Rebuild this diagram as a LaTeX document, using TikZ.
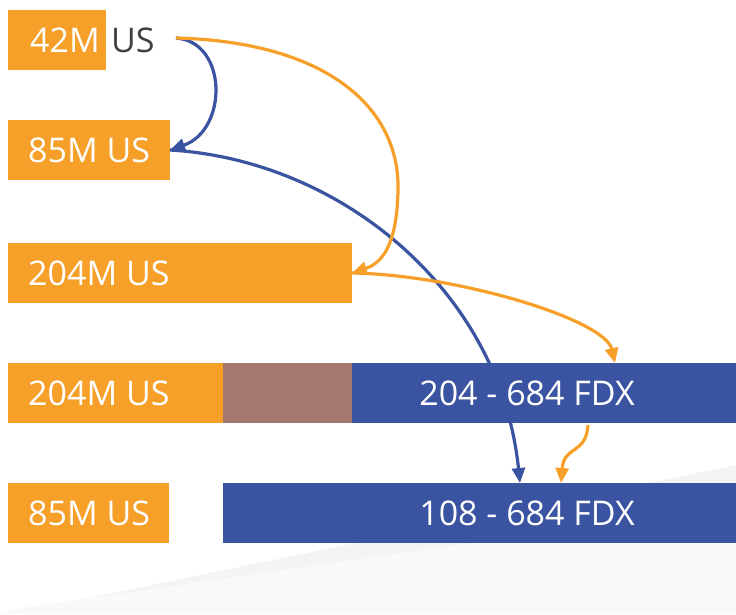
\documentclass[tikz,border=0pt]{standalone}
\usepackage{fontspec}
\setmainfont{Open Sans}
\usetikzlibrary{arrows.meta}
\definecolor{ora}{HTML}{F6A02A}
\definecolor{blu}{HTML}{3A54A2}
\definecolor{brn}{HTML}{A4786F}
\definecolor{dgray}{HTML}{404040}
\tikzset{
  bar/.style={anchor=north west, minimum height=60pt, inner sep=0pt, outer sep=0pt},
  lbl/.style={anchor=west, text=white, font=\fontsize{34}{40}\selectfont, inner sep=0pt},
  clbl/.style={text=white, font=\fontsize{34}{40}\selectfont, inner sep=0pt},
  oarr/.style={draw=ora, line width=3.2pt, -{Triangle[length=15pt,width=13pt]}},
  barr/.style={draw=blu, line width=3.2pt, -{Triangle[length=15pt,width=13pt]}},
}
\begin{document}
\begin{tikzpicture}[x=1pt,y=-1pt]
\useasboundingbox (0,0) rectangle (736,614);
% background shading
\fill[gray!9] (10,614) -- (736,465) -- (736,614) -- cycle;
\fill[gray!5] (0,614) -- (20,608) -- (736,505) -- (736,614) -- cycle;
% row 1
\node[bar, fill=ora, minimum width=98pt] (b1) at (8,10) {};
\node[lbl] (t1) at (30,40) {42M};
\node[lbl, text=dgray] (us) at (111,40) {US};
\coordinate (src) at (176,38);
% row 2
\node[bar, fill=ora, minimum width=162pt] (b2) at (8,120) {};
\node[lbl] (t2) at (28,150) {85M US};
% row 3
\node[bar, fill=ora, minimum width=344pt] (b3) at (8,243) {};
\node[lbl] (t3) at (28,273) {204M US};
% row 4
\node[bar, fill=ora, minimum width=215pt] (b4a) at (8,363) {};
\node[bar, fill=brn, minimum width=129pt] (b4b) at (223,363) {};
\node[bar, fill=blu, minimum width=384pt] (b4c) at (352,363) {};
\node[lbl] (t4) at (28,393) {204M US};
\node[clbl] (t4c) at (527,393) {204 - 684 FDX};
% row 5
\node[bar, fill=ora, minimum width=161pt] (b5a) at (8,483) {};
\node[bar, fill=blu, minimum width=513pt] (b5b) at (223,483) {};
\node[lbl] (t5) at (28,513) {85M US};
\node[clbl] (t5b) at (527,513) {108 - 684 FDX};
% connectors
\coordinate (o4) at (615,363);
\coordinate (o4s) at (588,425);
\coordinate (o5) at (561,483);
\coordinate (bl5) at (520,483);
\draw[barr] (src) .. controls (228,42) and (228,130) .. (b2.east);
\draw[barr] (b2.east) .. controls (340,160) and (500,290) .. (bl5);
\draw[oarr] (src) .. controls (330,42) and (400,110) .. (398,190) .. controls (397,240) and (385,262) .. (b3.east);
\draw[oarr] (b3.east) .. controls (460,275) and (605,320) .. (o4);
\draw[oarr] (o4s) .. controls (586,455) and (564,445) .. (o5);
\end{tikzpicture}
\end{document}
